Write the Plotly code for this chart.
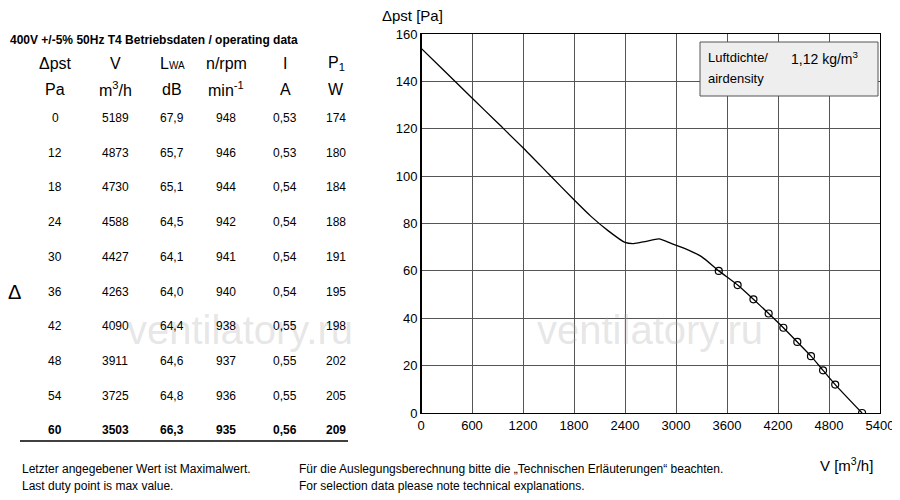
import plotly.graph_objects as go

curve_v = [0, 300, 600, 900, 1200, 1500, 1800, 2000, 2200, 2400, 2500, 2650, 2800, 2950, 3100, 3300, 3503, 3725, 3911, 4090, 4263, 4427, 4588, 4730, 4873, 5189]
curve_p = [154, 143.5, 133, 122.5, 112, 101, 90, 83, 77, 72, 71.5, 72.5, 73.5, 71.5, 69.5, 66, 60, 54, 48, 42, 36, 30, 24, 18, 12, 0]

pst = [0, 12, 18, 24, 30, 36, 42, 48, 54, 60]
vol = [5189, 4873, 4730, 4588, 4427, 4263, 4090, 3911, 3725, 3503]
lwa = ["67,9", "65,7", "65,1", "64,5", "64,1", "64,0", "64,4", "64,6", "64,8", "66,3"]
rpm = [948, 946, 944, 942, 941, 940, 938, 937, 936, 935]
cur = ["0,53", "0,53", "0,54", "0,54", "0,54", "0,54", "0,55", "0,55", "0,55", "0,56"]
pwr = [174, 180, 184, 188, 191, 195, 198, 202, 205, 209]

x_ticks = [0, 600, 1200, 1800, 2400, 3000, 3600, 4200, 4800, 5400]
y_ticks = [0, 20, 40, 60, 80, 100, 120, 140, 160]

F = "Liberation Sans, Arial"
fig = go.Figure()
fig.add_trace(go.Scatter(x=curve_v, y=curve_p, mode="lines", line=dict(color="black", width=1.3, shape="spline", smoothing=0.6), hoverinfo="skip"))
fig.add_trace(go.Scatter(x=vol, y=pst, mode="markers", marker=dict(symbol="circle-open", size=7, color="black", line=dict(width=1.2)), hoverinfo="skip"))

W, H = 892, 492
OFF = 8
def px(x): return (x - OFF) / W
def py(y): return 1 - (y - OFF) / H

fig.update_layout(
    width=W, height=H, margin=dict(l=0, r=0, t=0, b=0),
    paper_bgcolor="white", plot_bgcolor="white", showlegend=False,
    font=dict(family=F, size=13, color="black"),
    xaxis=dict(domain=[px(421), px(880)], range=[0, 5400], tickvals=x_ticks, showgrid=True, automargin=False,
               gridcolor="#555", gridwidth=1, zeroline=False, showline=True, linecolor="black", mirror=True,
               ticks="", tickfont=dict(size=13)),
    yaxis=dict(domain=[py(413), py(34)], range=[0, 160], tickvals=y_ticks, showgrid=True, automargin=False,
               gridcolor="#555", gridwidth=1, zeroline=False, showline=True, linecolor="black", mirror=True,
               ticks="", tickfont=dict(size=13)),
)
fig.add_shape(type="line", x0=0, x1=0, y0=0, y1=160, line=dict(color="black", width=2))

ann = []
def T(x, y, s, size=13, bold=False, anchor="center", color="black"):
    if bold: s = "<b>" + s + "</b>"
    ann.append(dict(x=px(x), y=py(y), xref="paper", yref="paper", text=s, showarrow=False,
                    xanchor=anchor, yanchor="middle", font=dict(size=size, color=color, family=F)))

T(240, 330, "ventilatory.ru", 40, anchor="center", color="rgba(170,170,170,0.3)")
T(650, 330, "ventilatory.ru", 40, anchor="center", color="rgba(170,170,170,0.3)")

T(8, 40, "400V +/-5% 50Hz T4 Betriebsdaten / operating data", 12, True, "left")
cols = [55, 115, 172, 226, 285, 336]
hdr1 = ["Δpst", "V", "L<span style='font-size:10px'>WA</span>", "n/rpm", "I", "P<sub>1</sub>"]
hdr2 = ["Pa", "m<sup>3</sup>/h", "dB", "min<sup>-1</sup>", "A", "W"]
for c, a, b in zip(cols, hdr1, hdr2):
    T(c, 64, a, 16)
    T(c, 89, b, 16)
for i in range(len(pst)):
    y = 118 + i * 34.7
    bold = i == len(pst) - 1
    for c, v in zip(cols, [pst[i], vol[i], lwa[i], rpm[i], cur[i], pwr[i]]):
        T(c, y, str(v), 12, bold)
T(14, 292, "Δ", 20)
fig.add_shape(type="line", xref="paper", yref="paper", x0=px(20), x1=px(348), y0=py(441), y1=py(441), line=dict(color="black", width=1.5))

T(380, 15, "Δpst [Pa]", 15, anchor="left")
T(818, 464, "V [m<sup>3</sup>/h]", 15, anchor="left")
T(20, 469, "Letzter angegebener Wert ist Maximalwert.", 12, anchor="left")
T(20, 486, "Last duty point is max value.", 12, anchor="left")
T(297, 469, "Für die Auslegungsberechnung bitte die „Technischen Erläuterungen“ beachten.", 12, anchor="left")
T(297, 486, "For selection data please note technical explanations.", 12, anchor="left")

fig.add_shape(type="rect", xref="paper", yref="paper", x0=px(700), x1=px(878), y0=py(96), y1=py(42),
              fillcolor="#eeeeee", line=dict(color="#555", width=1))
T(706, 58, "Luftdichte/", 13, anchor="left")
T(706, 78, "airdensity", 13, anchor="left")
T(789, 58, "1,12 kg/m<sup>3</sup>", 14, anchor="left")

fig.update_layout(annotations=ann)
fig.write_html("out.html")
